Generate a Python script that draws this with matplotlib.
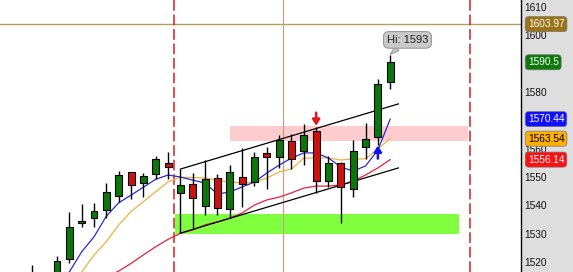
import matplotlib
matplotlib.use("Agg")
import matplotlib.pyplot as plt
import matplotlib.transforms as mtransforms
from matplotlib.patches import Rectangle

plt.rcParams['font.family'] = ['Liberation Sans', 'DejaVu Sans']

# ---- daily OHLC bars ----
opens  = [1512.0, 1513.0, 1514.0, 1521.1, 1533.8, 1535.5, 1538.4, 1543.3, 1551.8, 1547.9,
          1551.1, 1554.9, 1544.4, 1547.5, 1539.8, 1549.7, 1538.7, 1550.0, 1548.2, 1558.5,
          1557.1, 1562.7, 1559.2, 1566.2, 1548.6, 1554.9, 1545.8, 1560.6, 1564.1, 1583.5]
highs  = [1518.9, 1516.0, 1522.1, 1537.6, 1540.5, 1540.8, 1547.9, 1552.1, 1551.8, 1551.4,
          1557.4, 1558.8, 1552.8, 1551.4, 1556.0, 1551.1, 1554.2, 1560.2, 1558.8, 1560.6,
          1564.8, 1565.2, 1568.7, 1567.7, 1557.4, 1555.3, 1563.1, 1569.1, 1584.6, 1593.0]
lows   = [1509.0, 1508.0, 1512.0, 1519.6, 1532.4, 1532.4, 1535.5, 1541.2, 1542.2, 1542.9,
          1549.3, 1549.3, 1530.2, 1532.0, 1536.6, 1536.6, 1535.5, 1539.4, 1546.8, 1545.8,
          1553.2, 1552.8, 1554.2, 1544.4, 1546.5, 1533.8, 1542.9, 1556.4, 1561.3, 1581.1]
closes = [1515.5, 1511.0, 1520.4, 1532.4, 1534.5, 1538.0, 1544.7, 1550.7, 1547.2, 1550.4,
          1556.4, 1553.5, 1547.2, 1542.6, 1549.3, 1539.1, 1551.8, 1547.5, 1557.1, 1557.1,
          1563.1, 1556.4, 1564.8, 1548.6, 1554.9, 1546.5, 1559.2, 1563.4, 1582.8, 1590.5]

# ---- moving averages ----
ma_fast = [1505.0, 1508.0, 1512.0, 1516.5, 1523.6, 1528.9, 1536.2, 1540.9, 1543.6, 1546.4,
           1549.2, 1550.7, 1550.0, 1548.9, 1547.9, 1544.0, 1544.7, 1546.5, 1548.2, 1551.4,
           1554.2, 1556.7, 1558.5, 1558.5, 1556.7, 1553.5, 1552.1, 1553.9, 1559.5, 1570.44]
ma_mid  = [1500.0, 1503.0, 1507.0, 1511.5, 1516.5, 1522.5, 1527.2, 1533.1, 1537.8, 1541.3,
           1544.8, 1548.3, 1549.9, 1549.8, 1549.6, 1548.9, 1548.2, 1547.9, 1548.2, 1549.6,
           1551.8, 1552.8, 1556.7, 1556.7, 1556.7, 1556.0, 1556.4, 1556.4, 1559.9, 1563.54]
ma_slow = [1500.0, 1502.0, 1505.0, 1508.0, 1510.5, 1512.5, 1514.5, 1516.8, 1519.5, 1522.5,
           1525.4, 1528.0, 1530.1, 1531.3, 1533.1, 1534.2, 1535.5, 1537.3, 1540.1, 1541.9,
           1542.9, 1544.4, 1546.1, 1546.8, 1546.8, 1547.2, 1548.6, 1550.7, 1553.2, 1556.14]

# ---- annotations ----
y_ticks = [1520, 1530, 1540, 1550, 1560, 1580, 1600, 1610]
ref_level = 1603.97
last_close = 1590.5
last_fast, last_mid, last_slow = 1570.44, 1563.54, 1556.14
hi_value = 1593
channel_start, channel_end = 12, 29.66
channel_upper = [1552.8, 1575.8]
channel_lower = [1530.2, 1553.2]
resist_zone = (16.0, 35.3, 1562.7, 1568.0)
support_zone = (11.56, 34.6, 1529.9, 1536.9)
period_marks = [11.48, 35.47]
cursor_x = 20.34
sell_bar, buy_bar = 23, 28

GREEN = '#0b770b'
RED = '#cc1111'

W, H = 573, 272
fig = plt.figure(figsize=(W / 100, H / 100), dpi=100, facecolor='#dedede')
ax = fig.add_axes([0, 0, 521 / W, 1])
ax.set_facecolor('white')
ax.set_xlim(-2.62, 39.6)
ax.set_ylim(1516.47, 1612.48)

# zones
for (x0, x1, y0, y1), col in [(resist_zone, '#ffcccd'), (support_zone, '#80ff40')]:
    ax.add_patch(Rectangle((x0, y0), x1 - x0, y1 - y0, fc=col, ec='none', zorder=1))

# reference lines
ax.axhline(ref_level, color='#b89c5a', lw=1.0, zorder=2)
ax.axvline(cursor_x, color='#c4a480', lw=0.9, zorder=2)
for xm in period_marks:
    ax.axvline(xm, color='#d42020', lw=1.1, dashes=(7, 2.5), zorder=2)

# moving averages
n = len(closes)
xs = list(range(n))
ax.plot(xs, ma_slow, color='#e8203a', lw=0.9, zorder=3)
ax.plot(xs, ma_mid, color='#f2b040', lw=0.9, zorder=3)
ax.plot(xs, ma_fast, color='#2828e0', lw=0.9, zorder=3)

# channel
ax.plot([channel_start, channel_end], channel_upper, color='black', lw=0.9, zorder=3)
ax.plot([channel_start, channel_end], channel_lower, color='black', lw=0.9, zorder=3)

# candlesticks
bw = 0.56
for i in range(n):
    o, h, l, c = opens[i], highs[i], lows[i], closes[i]
    col = GREEN if c >= o else RED
    ax.plot([i, i], [l, h], color='black', lw=1.0, zorder=4, solid_capstyle='butt')
    lo, hi = min(o, c), max(o, c)
    ax.add_patch(Rectangle((i - bw / 2, lo), bw, max(hi - lo, 0.3),
                           fc=col, ec='black', lw=0.8, zorder=5))

# signal arrows
arrow_style = '-|>,head_length=0.35,head_width=0.22'
ax.annotate('', xy=(sell_bar, highs[sell_bar] + 0.4), xytext=(sell_bar, highs[sell_bar] + 5.0),
            arrowprops=dict(arrowstyle=arrow_style, color='#e01818', lw=1.8,
                            shrinkA=0, shrinkB=0),
            zorder=6)
ax.annotate('', xy=(buy_bar, lows[buy_bar] - 0.2), xytext=(buy_bar, lows[buy_bar] - 4.8),
            arrowprops=dict(arrowstyle=arrow_style, color='#1010ff', lw=1.8,
                            shrinkA=0, shrinkB=0),
            zorder=6)

# high callout
ax.annotate(f'Hi: {hi_value}', xy=(n - 1, hi_value + 0.3), xytext=(30.4, 1598.4),
            ha='center', va='center', fontsize=8, color='#222222',
            bbox=dict(boxstyle='round,pad=0.3,rounding_size=0.5', fc='#c9c9c9', ec='#9a9a9a', lw=0.8),
            arrowprops=dict(arrowstyle='wedge,tail_width=0.5', fc='#c9c9c9', ec='#9a9a9a', lw=0.8,
                            shrinkA=0, shrinkB=0),
            zorder=7)

# axis styling
for side in ('left', 'top', 'bottom'):
    ax.spines[side].set_visible(False)
ax.spines['right'].set_color('black')
ax.spines['right'].set_linewidth(1.0)
ax.set_xticks([])
ax.yaxis.tick_right()
ax.set_yticks(y_ticks)
ax.set_yticklabels([str(t) for t in y_ticks])
ax.tick_params(axis='y', length=0, pad=2.5, labelsize=7.3, labelcolor='#111111')

# value tags on the price axis
trans = mtransforms.blended_transform_factory(ax.transAxes, ax.transData)
tags = [(ref_level, f'{ref_level:.2f}', '#9c7418', 'white'),
        (last_close, f'{last_close}', '#0b7a0b', 'white'),
        (last_fast, f'{last_fast:.2f}', '#1010ff', 'white'),
        (last_mid, f'{last_mid:.2f}', '#ffb000', 'black'),
        (last_slow, f'{last_slow:.2f}', '#ff1010', 'white')]
for val, txt, bg, fg in tags:
    ax.text(1.013, val, txt, transform=trans, ha='left', va='center', fontsize=7.3, color=fg,
            clip_on=False, zorder=10,
            bbox=dict(boxstyle='round,pad=0.25,rounding_size=0.35', fc=bg, ec='#777777', lw=0.5))

fig.savefig('out.png', dpi=100, facecolor=fig.get_facecolor())
